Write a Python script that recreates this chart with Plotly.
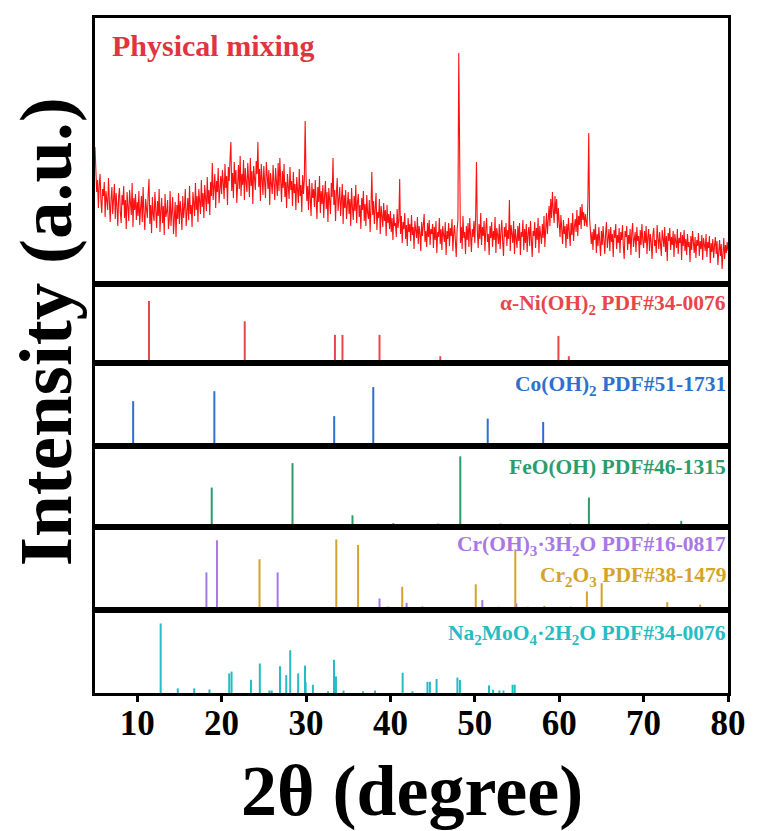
import plotly.graph_objects as go

# ---------------- measured scan (Physical mixing), 0.1 deg steps ----------------
scan_start = 5.0
scan_step = 0.1
scan_05 = [137, 118, 92, 104, 76, 99, 110, 84, 71, 95,
           88, 102, 67, 93, 81, 74, 106, 90, 62, 85,
           97, 70, 83, 100, 65, 91, 78, 58, 87, 96,
           72, 61, 89, 79, 98, 66, 84, 55, 92, 75,
           63, 94, 80, 69, 101, 57, 86, 74, 90, 64]
scan_10 = [82, 68, 93, 59, 76, 88, 62, 97, 71, 54,
           85, 73, 66, 90, 105, 60, 79, 51, 87, 70,
           63, 92, 75, 56, 83, 68, 95, 52, 74, 86,
           61, 78, 49, 90, 67, 72, 84, 55, 64, 93,
           58, 76, 87, 50, 70, 82, 47, 79, 65, 91]
scan_15 = [60, 83, 72, 54, 88, 66, 77, 95, 58, 73,
           86, 64, 98, 70, 79, 57, 92, 81, 68, 101,
           74, 88, 62, 95, 83, 70, 104, 77, 91, 66,
           99, 85, 73, 107, 80, 94, 69, 102, 88, 121,
           84, 97, 110, 76, 103, 92, 116, 81, 99, 108]
scan_20 = [90, 114, 101, 85, 120, 96, 108, 79, 117, 103,
           125, 142, 93, 111, 86, 122, 100, 114, 81, 106,
           119, 95, 128, 88, 110, 99, 124, 84, 116, 102,
           92, 121, 105, 87, 126, 98, 113, 80, 118, 107,
           94, 123, 110, 142, 97, 115, 83, 120, 104, 89]
scan_25 = [118, 100, 86, 122, 108, 95, 114, 79, 111, 101,
           90, 119, 97, 84, 116, 104, 88, 121, 93, 126,
           105, 82, 113, 96, 120, 87, 102, 76, 110, 98,
           85, 117, 94, 103, 78, 112, 91, 100, 74, 107,
           96, 81, 115, 88, 99, 72, 109, 90, 104, 163]
scan_30 = [110, 83, 98, 74, 105, 91, 68, 101, 86, 95,
           77, 104, 89, 65, 97, 82, 108, 71, 93, 80,
           99, 66, 88, 103, 75, 92, 62, 96, 84, 70,
           101, 87, 126, 79, 94, 63, 90, 106, 73, 85,
           97, 68, 81, 100, 60, 89, 76, 94, 65, 83]
scan_35 = [92, 70, 85, 58, 96, 77, 64, 88, 73, 99,
           61, 82, 90, 67, 79, 55, 86, 74, 93, 63,
           80, 58, 89, 71, 65, 84, 52, 77, 112, 69,
           83, 60, 76, 91, 54, 72, 66, 85, 50, 78,
           68, 57, 81, 63, 74, 48, 79, 61, 70, 55]
scan_40 = [73, 52, 66, 44, 70, 58, 61, 47, 75, 56,
           64, 105, 50, 68, 41, 62, 55, 71, 45, 59,
           38, 66, 52, 60, 43, 69, 49, 57, 35, 63,
           54, 46, 67, 40, 58, 51, 33, 62, 48, 56,
           70, 42, 53, 37, 61, 47, 64, 39, 55, 50]
scan_45 = [60, 36, 57, 44, 63, 31, 52, 47, 66, 40,
           55, 34, 58, 49, 42, 62, 29, 53, 45, 61,
           38, 56, 48, 65, 33, 51, 59, 43, 27, 54,
           64, 231, 96, 41, 57, 35, 68, 46, 52, 30,
           58, 44, 61, 37, 66, 50, 32, 55, 47, 63]
scan_50 = [41, 68, 122, 53, 36, 60, 45, 71, 39, 57,
           48, 63, 33, 55, 66, 42, 50, 29, 58, 46,
           62, 37, 53, 44, 67, 31, 56, 49, 40, 60,
           35, 52, 64, 43, 28, 57, 47, 61, 38, 54,
           45, 84, 33, 59, 50, 41, 63, 30, 55, 46]
scan_55 = [36, 58, 43, 61, 29, 52, 47, 64, 34, 55,
           41, 60, 32, 50, 57, 38, 63, 45, 27, 53,
           48, 62, 36, 56, 44, 66, 31, 58, 49, 40,
           60, 46, 68, 37, 55, 71, 50, 63, 78, 58,
           85, 66, 92, 74, 61, 88, 70, 85, 56, 76]
scan_60 = [62, 47, 69, 53, 40, 64, 50, 58, 36, 60,
           45, 66, 54, 38, 61, 49, 71, 43, 57, 65,
           52, 74, 48, 68, 59, 77, 55, 80, 64, 72,
           58, 70, 62, 57, 84, 151, 66, 49, 40, 52,
           34, 55, 44, 60, 31, 50, 38, 57, 42, 28]
scan_65 = [53, 39, 58, 45, 30, 51, 62, 36, 48, 55,
           33, 57, 42, 50, 27, 54, 46, 60, 35, 49,
           41, 56, 31, 52, 44, 59, 38, 25, 53, 47,
           58, 34, 49, 40, 55, 29, 51, 61, 37, 45,
           52, 32, 57, 43, 48, 26, 54, 39, 60, 44]
scan_70 = [36, 53, 41, 58, 30, 47, 55, 33, 50, 42,
           25, 49, 56, 38, 44, 31, 59, 46, 35, 52,
           40, 28, 54, 45, 37, 57, 32, 48, 23, 51,
           43, 56, 34, 47, 39, 53, 27, 50, 44, 36,
           55, 30, 46, 41, 52, 24, 49, 38, 54, 33]
scan_75 = [45, 29, 50, 37, 42, 22, 48, 34, 53, 40,
           31, 47, 26, 44, 38, 51, 28, 43, 35, 49,
           24, 46, 39, 33, 50, 27, 42, 36, 48, 21,
           41, 32, 45, 26, 38, 47, 30, 43, 19, 37,
           44, 28, 40, 15, 35, 46, 25, 39, 31, 42,
           33]

# ---------------- reference patterns (2theta, relative intensity) ----------------
ni_pos = [11.40, 22.74, 33.43, 34.32, 38.71, 45.91, 59.91, 61.14]
ni_int = [78.5, 52.8, 35.6, 35.6, 35.6, 8.6, 34.3, 8.6]

co_pos = [9.52, 19.14, 33.34, 37.97, 51.53, 58.10]
co_int = [54, 66, 36, 71, 33, 29]

fe_pos = [18.83, 28.40, 35.51, 40.34, 45.66, 48.28, 53.06, 61.30, 63.52, 70.56, 74.46]
fe_int = [48.7, 78.8, 14.4, 4.7, 4.2, 87.3, 4.2, 4.2, 36.4, 4.2, 7.6]

croh_pos = [18.20, 19.45, 26.64, 38.71, 41.92, 43.79, 50.89, 54.92, 61.36]
croh_int = [45.3, 84, 45.3, 13.8, 8.6, 4.3, 12, 8, 4]

cr2o3_pos = [24.49, 33.59, 36.17, 36.83, 39.69, 41.40, 50.11, 52.85, 54.80, 56.28,
             58.24, 63.28, 65.03, 67.22, 70.73, 72.80, 74.64, 76.71, 78.74]
cr2o3_int = [61.2, 85, 78.4, 2, 4.3, 28, 31, 4, 73.3, 4,
             5, 22.4, 32.3, 2, 3, 9.5, 3, 6.5, 3]

na_pos = [12.78, 14.81, 16.76, 18.56, 20.90, 21.18, 23.48, 24.53, 25.67, 25.94,
          26.92, 27.66, 28.13, 29.07, 29.88, 29.96, 30.82, 32.61, 33.32, 33.55,
          34.45, 36.76, 38.17, 41.45, 42.62, 44.39, 44.68, 45.47, 47.94, 48.24,
          51.68, 52.17, 52.91, 53.40, 54.48, 54.73]
na_int = [83.7, 5.6, 5.6, 4.3, 23.6, 25.8, 15.9, 35.6, 3, 3,
          32.2, 21.5, 51.5, 23.6, 33, 13, 9.9, 2, 40, 20,
          3, 2, 3, 24.5, 2, 13.5, 13.5, 16.9, 18.6, 15.6,
          9.3, 4, 3, 3, 10, 10]

x_ticks = [10, 20, 30, 40, 50, 60, 70, 80]

# ---------------- styling ----------------
FONT = "Liberation Serif, Times New Roman, serif"
C_MIX = "#ff1010"
C_MIX_LABEL = "#e0353c"
C_NI = "#e8464c"
C_CO = "#2f6fcd"
C_FE = "#2a9d6a"
C_CROH = "#a877e6"
C_CR2O3 = "#d4a42a"
C_NA = "#26bcc4"

# stacked panel domains (top panel is the measured scan)
domains = [
    [0.6059, 1.0],
    [0.4889, 0.6059],
    [0.3659, 0.4889],
    [0.2459, 0.3659],
    [0.1230, 0.2459],
    [0.0, 0.1230],
]

fig = go.Figure()

scan = (scan_05 + scan_10 + scan_15 + scan_20 + scan_25 + scan_30 + scan_35 + scan_40
        + scan_45 + scan_50 + scan_55 + scan_60 + scan_65 + scan_70 + scan_75)
scan_x = [round(scan_start + scan_step * i, 2) for i in range(len(scan))]
fig.add_trace(go.Scatter(x=scan_x, y=scan, mode="lines",
                         line=dict(color=C_MIX, width=1.1),
                         xaxis="x", yaxis="y", hoverinfo="skip"))


def sticks(pos, inten):
    xs, ys = [], []
    for p, h in zip(pos, inten):
        xs += [p, p, None]
        ys += [0, h, None]
    return xs, ys


stick_sets = [
    (2, ni_pos, ni_int, C_NI),
    (3, co_pos, co_int, C_CO),
    (4, fe_pos, fe_int, C_FE),
    (5, croh_pos, croh_int, C_CROH),
    (5, cr2o3_pos, cr2o3_int, C_CR2O3),
    (6, na_pos, na_int, C_NA),
]
for row, pos, inten, col in stick_sets:
    xs, ys = sticks(pos, inten)
    fig.add_trace(go.Scatter(x=xs, y=ys, mode="lines",
                             line=dict(color=col, width=2),
                             xaxis=f"x{row}", yaxis=f"y{row}", hoverinfo="skip"))

axis_line = dict(showline=True, linecolor="black", linewidth=3, mirror=True,
                 showgrid=False, zeroline=False)

layout_axes = {}
for i, dom in enumerate(domains, start=1):
    xname = "xaxis" if i == 1 else f"xaxis{i}"
    yname = "yaxis" if i == 1 else f"yaxis{i}"
    anchor_y = "y" if i == 1 else f"y{i}"
    anchor_x = "x" if i == 1 else f"x{i}"
    xa = dict(axis_line, domain=[0, 1], range=[5, 80], anchor=anchor_y,
              showticklabels=False, ticks="")
    if i == 6:
        xa.update(showticklabels=True, ticks="outside", ticklen=6, tickwidth=3,
                  tickcolor="black", tickvals=x_ticks, ticklabelstandoff=-9,
                  tickfont=dict(family=FONT, size=35, color="black", weight="bold"))
    ya = dict(axis_line, domain=dom, anchor=anchor_x, showticklabels=False, ticks="")
    ya["range"] = [0, 266] if i == 1 else [0, 100]
    layout_axes[xname] = xa
    layout_axes[yname] = ya

fig.update_layout(**layout_axes)


def label(text, x, y, color, size=21.5, xanchor="right"):
    return dict(text=text, x=x, y=y, xref="paper", yref="paper",
                xanchor=xanchor, yanchor="middle", showarrow=False,
                font=dict(family=FONT, size=size, color=color, weight="bold"))


annotations = [
    label("Physical mixing", 0.0234, 0.960, C_MIX_LABEL, size=30, xanchor="left"),
    label("α-Ni(OH)<sub>2</sub> PDF#34-0076", 1.0, 0.5750, C_NI),
    label("Co(OH)<sub>2</sub> PDF#51-1731", 1.0, 0.4550, C_CO),
    label("FeO(OH) PDF#46-1315", 1.0, 0.3345, C_FE),
    label("Cr(OH)<sub>3</sub>·3H<sub>2</sub>O PDF#16-0817", 1.0, 0.2180, C_CROH),
    label("Cr<sub>2</sub>O<sub>3</sub> PDF#38-1479", 1.0, 0.1720, C_CR2O3),
    label("Na<sub>2</sub>MoO<sub>4</sub>·2H<sub>2</sub>O PDF#34-0076", 1.0, 0.0870, C_NA),
    dict(text="2θ (degree)", x=0.5, y=-0.145, xref="paper", yref="paper",
         xanchor="center", yanchor="middle", showarrow=False,
         font=dict(family=FONT, size=72, color="black", weight="bold")),
    dict(text="Intensity (a.u.)", x=-0.077, y=0.535, xref="paper", yref="paper",
         xanchor="center", yanchor="middle", showarrow=False, textangle=-90,
         font=dict(family=FONT, size=75, color="black", weight="bold")),
]

fig.update_layout(
    width=758, height=831,
    margin=dict(l=95, r=23, t=18, b=138),
    paper_bgcolor="white", plot_bgcolor="white",
    showlegend=False,
    annotations=annotations,
)

fig.write_html("out.html")
